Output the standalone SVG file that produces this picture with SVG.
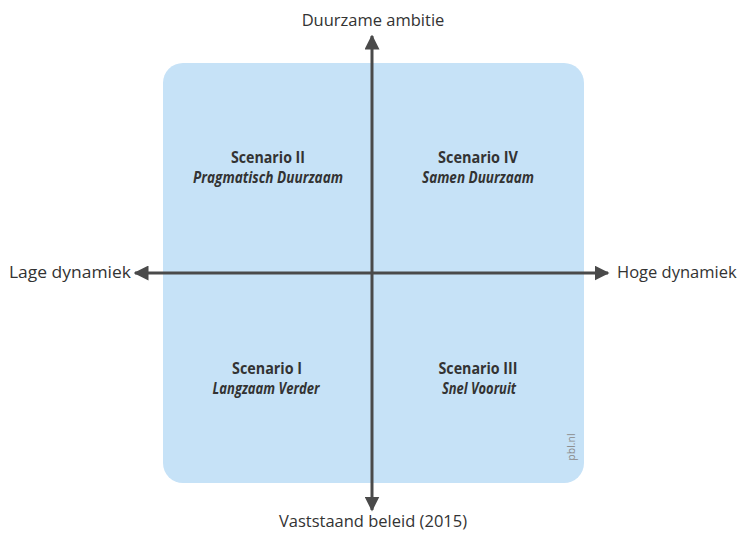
<svg xmlns="http://www.w3.org/2000/svg" width="742" height="533" viewBox="0 0 742 533">
<defs>
<style>
.axis{font-family:"Open Sans","Noto Sans",sans-serif;font-size:16.5px;fill:#333;}
.title{font-family:"Open Sans","Noto Sans",sans-serif;font-size:15.5px;font-weight:bold;fill:#333;text-anchor:middle;}
.sub{font-family:"Open Sans","Noto Sans",sans-serif;font-size:15.5px;font-weight:bold;font-style:italic;fill:#333;text-anchor:middle;}
.line{stroke:#4a4a4a;stroke-width:3;fill:none;}
.credit{font-family:"Open Sans","Noto Sans",sans-serif;font-size:10.5px;fill:#8a8a8a;text-anchor:middle;}
</style>
<marker id="arrow" viewBox="0 0 10 10" refX="9" refY="5" markerWidth="5" markerHeight="5" orient="auto" markerUnits="strokeWidth">
<path d="M0,0 L10,5 L0,10 z" fill="#4a4a4a"/>
</marker>
</defs>
<rect width="742" height="533" fill="#ffffff"/>
<g id="quadrant-area">
<rect x="163" y="63" width="421" height="420" rx="20" ry="20" fill="#c6e2f7"/>
<text class="credit" transform="translate(575,447) rotate(-90)">pbl.nl</text>
</g>
<g id="connectors">
<line class="line" x1="372" y1="272" x2="372" y2="36" marker-end="url(#arrow)"/>
<line class="line" x1="372" y1="272" x2="372" y2="510" marker-end="url(#arrow)"/>
<line class="line" x1="372" y1="273" x2="135" y2="273" marker-end="url(#arrow)"/>
<line class="line" x1="372" y1="273" x2="608" y2="273" marker-end="url(#arrow)"/>
</g>
<g id="axis-top"><text class="axis" x="373" y="26" text-anchor="middle">Duurzame ambitie</text></g>
<g id="axis-bottom"><text class="axis" x="373" y="527" text-anchor="middle">Vaststaand beleid (2015)</text></g>
<g id="axis-left"><text class="axis" x="131" y="278" text-anchor="end" textLength="122" lengthAdjust="spacingAndGlyphs">Lage dynamiek</text></g>
<g id="axis-right"><text class="axis" x="617" y="278" text-anchor="start">Hoge dynamiek</text></g>
<g id="scenario-2">
<text class="title" x="268" y="163" textLength="74" lengthAdjust="spacingAndGlyphs">Scenario II</text>
<text class="sub" x="268" y="183" textLength="150" lengthAdjust="spacingAndGlyphs">Pragmatisch Duurzaam</text>
</g>
<g id="scenario-4">
<text class="title" x="478" y="163" textLength="80" lengthAdjust="spacingAndGlyphs">Scenario IV</text>
<text class="sub" x="478" y="183" textLength="112" lengthAdjust="spacingAndGlyphs">Samen Duurzaam</text>
</g>
<g id="scenario-1">
<text class="title" x="267" y="374" textLength="70" lengthAdjust="spacingAndGlyphs">Scenario I</text>
<text class="sub" x="266" y="394" textLength="107" lengthAdjust="spacingAndGlyphs">Langzaam Verder</text>
</g>
<g id="scenario-3">
<text class="title" x="478" y="374" textLength="79" lengthAdjust="spacingAndGlyphs">Scenario III</text>
<text class="sub" x="479" y="394" textLength="74" lengthAdjust="spacingAndGlyphs">Snel Vooruit</text>
</g>
</svg>
